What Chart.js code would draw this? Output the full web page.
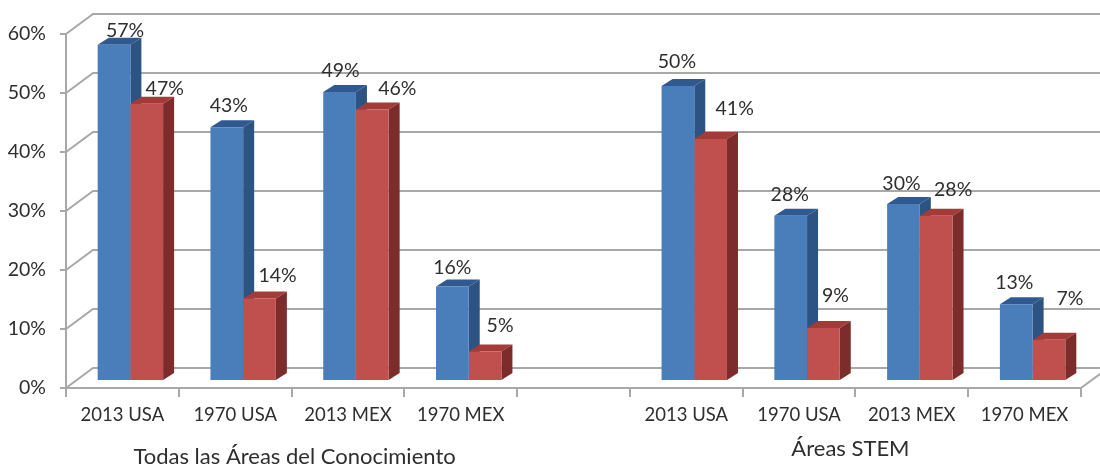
<!DOCTYPE html>
<html lang="es">
<head>
<meta charset="utf-8">
<title>Áreas del Conocimiento y STEM</title>
<script src="https://cdn.jsdelivr.net/npm/chart.js@4"></script>
<style>
  html, body { margin: 0; padding: 0; background: #fff; overflow: hidden; }
  canvas { display: block; }
</style>
</head>
<body>
<canvas id="grafica" width="1100" height="466"></canvas>
<script>
const categorias = ["2013 USA", "1970 USA", "2013 MEX", "1970 MEX", "", "2013 USA", "1970 USA", "2013 MEX", "1970 MEX"];
const serieAzul = [57, 43, 49, 16, null, 50, 28, 30, 13];
const serieRoja = [47, 14, 46, 5, null, 41, 9, 28, 7];
const marcasY = [0, 10, 20, 30, 40, 50, 60];
const grupos = ["Todas las Áreas del Conocimiento", "Áreas STEM"];

// ajuste fino de cada etiqueta respecto a la cara superior de su barra [dx, dy]
const ajusteAzul = [[11, -7], [2, -15], [1, -14], [0, -12], null, [-1, -17], [-1, -14], [-2, -13], [-2, -15]];
const ajusteRoja = [[18, -8], [18, -16], [25, -14], [15, -19], null, [24, -23], [12, -25], [17, -19], [21, -34]];

const FUENTE = "Lato, 'Liberation Sans', sans-serif";
const TEXTO = "#2e2e2e";
const LINEA = "#a8a8a8";
const FONDO_X = 27, FONDO_Y = 20;   // profundidad del piso y de la pared
const BARRA_X = 11, BARRA_Y = 7;    // profundidad de cada barra
const CORRE_X = 8, CORRE_Y = 7;     // las barras se apoyan dentro del piso

function cara(ctx, puntos, color) {
  ctx.fillStyle = color;
  ctx.beginPath();
  puntos.forEach((p, i) => i ? ctx.lineTo(p[0], p[1]) : ctx.moveTo(p[0], p[1]));
  ctx.closePath();
  ctx.fill();
}

const barras3d = {
  id: "barras3d",
  beforeDatasetsDraw(chart) {
    const { ctx, scales, chartArea } = chart;

    // pared del fondo y piso
    ctx.save();
    ctx.strokeStyle = LINEA;
    ctx.lineWidth = 2;
    marcasY.forEach(v => {
      const y = scales.y.getPixelForValue(v);
      ctx.beginPath();
      ctx.moveTo(chartArea.left, y);
      ctx.lineTo(chartArea.left + FONDO_X, y - FONDO_Y);
      ctx.lineTo(chart.width, y - FONDO_Y);
      ctx.stroke();
    });
    ctx.beginPath();
    ctx.moveTo(chartArea.right, chartArea.bottom);
    ctx.lineTo(chartArea.right + FONDO_X, chartArea.bottom - FONDO_Y);
    ctx.stroke();
    ctx.restore();

    // las caras frontales las pinta Chart.js, desplazadas hacia el fondo
    ctx.save();
    ctx.translate(CORRE_X, -CORRE_Y);
    const tonos = [
      { arriba: "#30598f", lado: "#2d5383" },
      { arriba: "#a33b38", lado: "#7c2c2a" }
    ];
    categorias.forEach((_, i) => {
      chart.data.datasets.forEach((ds, d) => {
        if (ds.data[i] == null) return;
        const b = chart.getDatasetMeta(d).data[i].getProps(["x", "y", "base", "width"], true);
        const izq = b.x - b.width / 2, der = b.x + b.width / 2;
        cara(ctx, [[izq, b.y], [izq + BARRA_X, b.y - BARRA_Y], [der + BARRA_X, b.y - BARRA_Y], [der, b.y]], tonos[d].arriba);
        cara(ctx, [[der, b.y], [der + BARRA_X, b.y - BARRA_Y], [der + BARRA_X, b.base - BARRA_Y], [der, b.base]], tonos[d].lado);
      });
    });
  },
  afterDatasetsDraw(chart) {
    const { ctx } = chart;
    ctx.restore();

    // porcentajes sobre cada barra
    ctx.save();
    ctx.font = "19.5px " + FUENTE;
    ctx.fillStyle = TEXTO;
    ctx.textAlign = "center";
    ctx.textBaseline = "middle";
    [ajusteAzul, ajusteRoja].forEach((ajuste, d) => {
      const ds = chart.data.datasets[d];
      ds.data.forEach((v, i) => {
        if (v == null) return;
        const b = chart.getDatasetMeta(d).data[i];
        ctx.fillText(v + "%", b.x + CORRE_X + ajuste[i][0], b.y - CORRE_Y - BARRA_Y + ajuste[i][1]);
      });
    });

    // nombre de cada grupo bajo sus cuatro categorías
    const x = chart.scales.x;
    ctx.font = "22px " + FUENTE;
    ctx.fillText(grupos[0], (x.getPixelForTick(1) + x.getPixelForTick(2)) / 2 + 3, 457);
    ctx.fillText(grupos[1], (x.getPixelForTick(6) + x.getPixelForTick(7)) / 2 - 5, 449);
    ctx.restore();
  }
};

new Chart(document.getElementById("grafica"), {
  type: "bar",
  data: {
    labels: categorias,
    datasets: [
      { label: "Serie 1", data: serieAzul, backgroundColor: "#4a7ebb", categoryPercentage: 0.58, barPercentage: 1, clip: false },
      { label: "Serie 2", data: serieRoja, backgroundColor: "#c0504d", categoryPercentage: 0.58, barPercentage: 1, clip: false }
    ]
  },
  options: {
    responsive: false,
    animation: false,
    layout: { padding: { top: 34, right: 19, left: 0, bottom: 0 } },
    plugins: { legend: { display: false }, tooltip: { enabled: false } },
    scales: {
      x: {
        afterFit: s => { s.height = 78; },
        border: { color: LINEA, width: 2 },
        grid: { color: LINEA, lineWidth: 2, drawOnChartArea: false, drawTicks: true, tickLength: 9 },
        ticks: { color: TEXTO, font: { family: FUENTE, size: 18.5 }, padding: 7, maxRotation: 0, autoSkip: false }
      },
      y: {
        min: 0,
        max: 60,
        afterFit: s => { s.width = 66; },
        border: { color: LINEA, width: 2 },
        grid: { color: LINEA, lineWidth: 2, drawOnChartArea: false, drawTicks: true, tickLength: 6 },
        ticks: { stepSize: 10, color: TEXTO, font: { family: FUENTE, size: 19.5 }, padding: 14, callback: v => v + "%" }
      }
    }
  },
  plugins: [barras3d]
});
</script>
</body>
</html>
